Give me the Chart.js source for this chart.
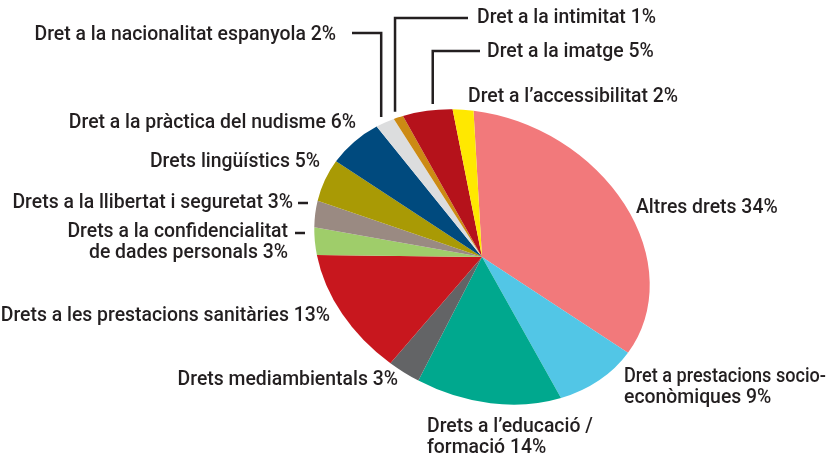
<!DOCTYPE html>
<html>
<head>
<meta charset="utf-8">
<script src="https://cdn.jsdelivr.net/npm/chart.js@4"></script>
<style>
html,body{margin:0;padding:0;background:#fff;}
#wrap{width:829px;height:459px;position:relative;}
</style>
</head>
<body>
<div id="wrap"><canvas id="c" width="829" height="459"></canvas></div>
<script>
// ---- data ----
const CATEGORIES = [
  "Altres drets",
  "Dret a prestacions socio-\necon\u00f2miques",
  "Drets a l\u2019educaci\u00f3 /\nformaci\u00f3",
  "Drets mediambientals",
  "Drets a les prestacions sanit\u00e0ries",
  "Drets a la confidencialitat\nde dades personals",
  "Drets a la llibertat i seguretat",
  "Drets ling\u00fc\u00edstics",
  "Dret a la pr\u00e0ctica del nudisme",
  "Dret a la nacionalitat espanyola",
  "Dret a la intimitat",
  "Dret a la imatge",
  "Dret a l\u2019accessibilitat"
];
const VALUES = [34, 9, 14, 3, 13, 3, 3, 5, 6, 2, 1, 5, 2];
const COLORS = ["#F2797B","#52C6E6","#00A88E","#636466","#C8171E","#9FCD6A","#9A8A82","#A99A05","#004A7E","#DCDDDE","#CC8A14","#B5121B","#FFE800"];

// ---- layout (label placement) ----
const LABEL_LAYOUT = [
  {x:636, y:208, align:"left"},
  {x:624, y:377, align:"left", maxW:202},
  {x:427, y:427, align:"left"},
  {x:398, y:380, align:"right"},
  {x:330, y:316, align:"right"},
  {x:288, y:232, align:"right", dash:[295,305,233]},
  {x:293, y:203, align:"right", dash:[298,308,203]},
  {x:320, y:162, align:"right"},
  {x:356, y:123, align:"right"},
  {x:336, y:35,  align:"right", leader:{from:352, y:33, f:0.5}},
  {x:477, y:18,  align:"left",  leader:{from:468, y:18, f:0.5}},
  {x:487, y:52,  align:"left",  leader:{from:480, y:51, f:0.65}},
  {x:468, y:97,  align:"left"}
];
const TILT = 28 * Math.PI / 180;
const SX = 175 / 139, SY = 1;
const TEXT_COLOR = "#231F20";
const FONT = "500 19.4px Roboto";
const LINE_H = 21.5;

function mapPt(arc, ang, rf){
  const r = arc.outerRadius * rf;
  const px = r * Math.cos(ang) * SX, py = r * Math.sin(ang) * SY;
  const c = Math.cos(TILT), s = Math.sin(TILT);
  return {x: arc.x + px*c - py*s, y: arc.y + px*s + py*c};
}

const ellipsePlugin = {
  id: "ellipse",
  beforeDatasetsDraw(chart){
    const ctx = chart.ctx;
    const arc = chart.getDatasetMeta(0).data[0];
    ctx.save();
    ctx.translate(arc.x, arc.y);
    ctx.rotate(TILT);
    ctx.scale(SX, SY);
    ctx.translate(-arc.x, -arc.y);
  },
  afterDatasetsDraw(chart){ chart.ctx.restore(); }
};

const labelPlugin = {
  id: "labels",
  afterDraw(chart){
    const ctx = chart.ctx;
    const arcs = chart.getDatasetMeta(0).data;
    ctx.save();
    ctx.fillStyle = TEXT_COLOR;
    ctx.strokeStyle = TEXT_COLOR;
    ctx.lineWidth = 2.5;
    ctx.font = FONT;
    ctx.textBaseline = "middle";
    CATEGORIES.forEach((name, i) => {
      const L = LABEL_LAYOUT[i];
      const lines = name.split("\n");
      lines[lines.length-1] += " " + VALUES[i] + "%";
      ctx.textAlign = L.align;
      lines.forEach((t, k) => {
        if (L.maxW) ctx.fillText(t, L.x, L.y + k*LINE_H, L.maxW);
        else ctx.fillText(t, L.x, L.y + k*LINE_H);
      });
      if (L.dash){
        ctx.beginPath();
        ctx.moveTo(L.dash[0], L.dash[2]);
        ctx.lineTo(L.dash[1], L.dash[2]);
        ctx.stroke();
      }
      if (L.leader){
        const a = arcs[i];
        const ang = a.startAngle + (a.endAngle - a.startAngle) * L.leader.f;
        const p = mapPt(a, ang, 1.04);
        ctx.beginPath();
        ctx.moveTo(L.leader.from, L.leader.y);
        ctx.lineTo(p.x, L.leader.y);
        ctx.lineTo(p.x, p.y);
        ctx.stroke();
      }
    });
    ctx.restore();
  }
};

new Chart(document.getElementById("c"), {
  type: "pie",
  data: {
    labels: CATEGORIES,
    datasets: [{
      data: VALUES,
      backgroundColor: COLORS,
      borderWidth: 0,
      clip: false
    }]
  },
  options: {
    responsive: false,
    animation: false,
    rotation: -25.8,
    radius: 139,
    layout: {padding: {left: 343, right: 208, top: 118, bottom: 63}},
    plugins: {legend: {display: false}, tooltip: {enabled: false}}
  },
  plugins: [ellipsePlugin, labelPlugin]
});
</script>
</body>
</html>
